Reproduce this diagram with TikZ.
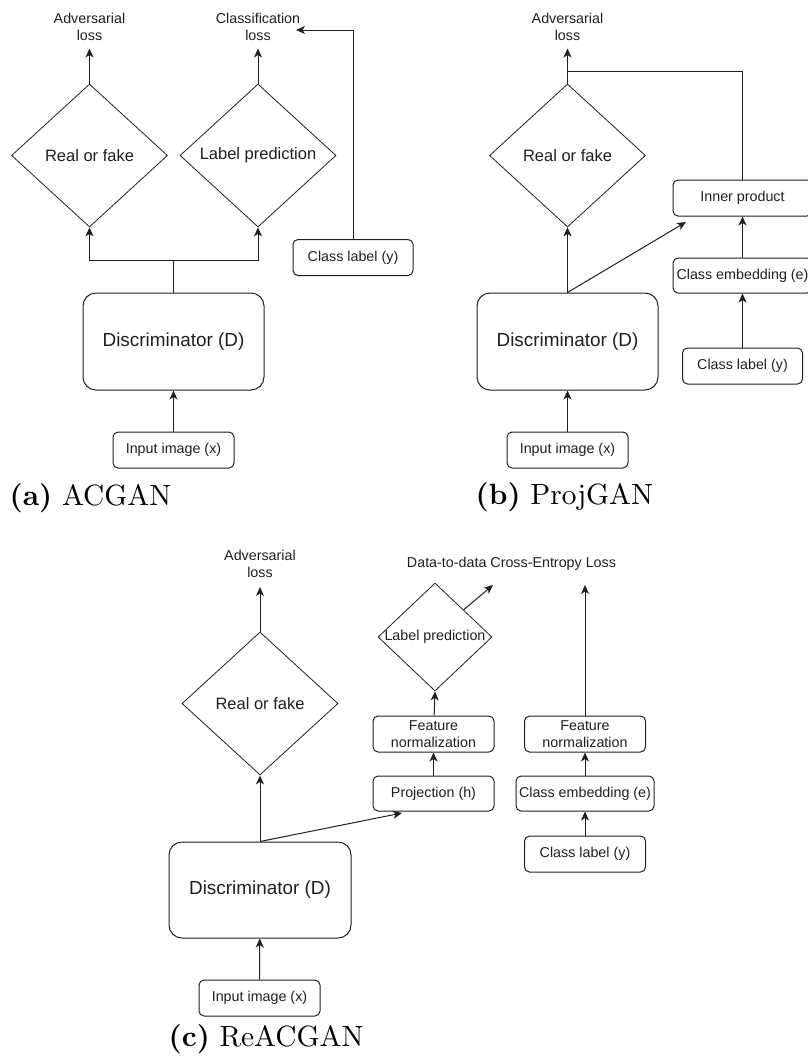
\documentclass[tikz,border=0pt]{standalone}
\usepackage{fontspec}
\newfontfamily\diagfont{Liberation Sans}
\newfontfamily\capfont{lmroman10-regular}[Extension=.otf, BoldFont=lmroman10-bold]
\usetikzlibrary{shapes.geometric,arrows.meta}
\definecolor{ink}{HTML}{1F1F1F}
% type sizes used in the diagrams
\newcommand\labelsize{\diagfont\fontsize{14.3}{17}\selectfont}
\newcommand\diasize{\diagfont\fontsize{16.5}{19}\selectfont}
\newcommand\discsize{\diagfont\fontsize{18.9}{22}\selectfont}
\newcommand\capsize{\capfont\fontsize{29.3}{34}\selectfont}

\tikzset{
  wire/.style={draw=ink, line width=1pt},
  arr/.style={wire, -{Stealth[length=9pt,width=8pt,inset=2.5pt]}},
  smallbox/.style={draw=ink, line width=1pt, rounded corners=5pt,
    minimum width=#1, minimum height=36pt, inner sep=0pt,
    font=\labelsize, text=ink, align=center},
  smallbox/.default=121pt,
  discbox/.style={draw=ink, line width=1pt, rounded corners=13pt,
    minimum width=181pt, minimum height=97pt, inner sep=0pt,
    font=\discsize, text=ink},
  decision/.style={diamond, draw=ink, line width=0.8pt, inner sep=0pt,
    minimum width=156pt, minimum height=143pt},
  lbl/.style={font=\labelsize, text=ink, align=center, inner sep=0pt},
  dlbl/.style={font=\diasize, text=ink, inner sep=0pt},
  caption/.style={anchor=base west, inner sep=0pt, font=\capsize},
}

\begin{document}
\begin{tikzpicture}[x=1pt, y=-1pt]
\useasboundingbox (0,0) rectangle (808,1063);

% ---------------- (a) ACGAN ----------------
\node[discbox] (dA) at (173.5,341.5) {Discriminator (D)};
\node[smallbox] (inA) at (173.5,450) {Input image (x)};
\node[decision] (rfA) at (89.5,155.5) {};
\node[dlbl] (rfAt) at (rfA) {Real or fake};
\node[decision] (lpA) at (258,155.5) {};
\node[dlbl] (lpAt) at (lpA) {Label prediction};
\node[smallbox=120pt] (clA) at (353,257.5) {Class label (y)};
\node[lbl] (advA) at (89.5,27.3) {Adversarial\\loss};
\node[lbl] (clsA) at (258,27.3) {Classification\\loss};
\coordinate (jA) at (173.5,260);
\coordinate (advAin) at (89.5,48.5);
\coordinate (clsAin) at (258,48.5);
\coordinate (clAin) at (296,30);

\draw[arr] (inA) -- (dA);
\draw[wire] (dA) -- (jA);
\draw[arr] (jA) -| (rfA.south);
\draw[arr] (jA) -| (lpA.south);
\draw[arr] (rfA.north) -- (advAin);
\draw[arr] (lpA.north) -- (clsAin);
\draw[arr] (clA.north) |- (clAin);

\node[caption] (capA) at (9.5,505) {\textbf{(a)} ACGAN};

% ---------------- (b) ProjGAN ----------------
\node[discbox] (dB) at (567.5,341.5) {Discriminator (D)};
\node[smallbox] (inB) at (567.5,450) {Input image (x)};
\node[decision] (rfB) at (567.5,155.5) {};
\node[dlbl] (rfBt) at (rfB) {Real or fake};
\node[smallbox=139pt] (ipB) at (742.5,198) {Inner product};
\node[smallbox=139pt, minimum height=35pt] (ceB) at (742.5,275.5) {Class embedding (e)};
\node[smallbox=120pt] (clB) at (742.5,366) {Class label (y)};
\node[lbl] (advB) at (567.5,27.3) {Adversarial\\loss};
\coordinate (advBin) at (567.5,48.5);
\coordinate (jB) at (567.5,71);
\coordinate (ipBin) at (686,222);

\draw[arr] (inB) -- (dB);
\draw[arr] (dB.north) -- (rfB.south);
\draw[arr] (dB.north) -- (ipBin);
\draw[arr] (rfB.north) -- (advBin);
\draw[wire] (ipB.north) |- (jB);
\draw[arr] (ceB) -- (ipB);
\draw[arr] (clB) -- (ceB);

\node[caption] (capB) at (475.5,504) {\textbf{(b)} ProjGAN};

% ---------------- (c) ReACGAN ----------------
\node[discbox, minimum width=182pt, minimum height=96pt] (dC) at (260,890) {Discriminator (D)};
\node[smallbox] (inC) at (259.5,998) {Input image (x)};
\node[decision] (rfC) at (260,703.5) {};
\node[dlbl] (rfCt) at (rfC) {Real or fake};
\node[smallbox, minimum height=35pt] (prC) at (433.5,793.5) {Projection (h)};
\node[smallbox] (fnC) at (433.5,734) {Feature\\normalization};
\node[decision, minimum width=114pt, minimum height=108pt] (lpC) at (435,637) {};
\node[lbl] (lpCt) at (lpC) {Label prediction};
\node[smallbox] (clC) at (585,854) {Class label (y)};
\node[smallbox=138pt, minimum height=35pt] (ceC) at (585,793.5) {Class embedding (e)};
\node[smallbox] (feC) at (585,734) {Feature\\normalization};
\node[lbl] (advC) at (260,564.3) {Adversarial\\loss};
\node[lbl] (ceLoss) at (511.5,564) {Data-to-data Cross-Entropy Loss};
\coordinate (advCin) at (260,587);
\coordinate (prCin) at (402,813);
\coordinate (lpCout) at (493,585);
\coordinate (feCout) at (585,585);

\draw[arr] (inC) -- (dC);
\draw[arr] (dC.north) -- (rfC.south);
\draw[arr] (dC.north) -- (prCin);
\draw[arr] (rfC.north) -- (advCin);
\draw[arr] (prC) -- (fnC);
\draw[arr] (fnC) -- (lpC.south);
\draw[arr] (lpC.north east) -- (lpCout);
\draw[arr] (clC) -- (ceC);
\draw[arr] (ceC) -- (feC);
\draw[arr] (feC) -- (feCout);

\node[caption] (capC) at (168.5,1046) {\textbf{(c)} ReACGAN};
\end{tikzpicture}
\end{document}
